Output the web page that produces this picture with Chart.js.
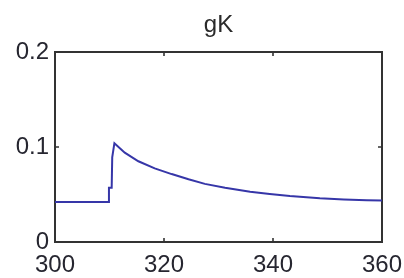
<!DOCTYPE html>
<html>
<head>
<meta charset="utf-8">
<script src="https://cdn.jsdelivr.net/npm/chart.js@4/dist/chart.umd.min.js"></script>
<style>
  html, body { margin: 0; padding: 0; background: #ffffff; overflow: hidden; }
</style>
</head>
<body>
<canvas id="c" width="404" height="278"></canvas>
<script>
// Data
const titleText = 'gK';
const timeValues = [300, 309.9, 309.9, 310.4, 310.5, 310.9, 312.8, 315.3, 318.3, 321.4, 324.5, 327.5, 331.2, 335.8, 339.4, 343.1, 348.6, 353.0, 357.2, 360];
const gKValues   = [0.042, 0.042, 0.057, 0.057, 0.089, 0.104, 0.094, 0.085, 0.0775, 0.0715, 0.066, 0.0612, 0.057, 0.0528, 0.0505, 0.0483, 0.0460, 0.0448, 0.0440, 0.0436];
const xTicks = [300, 320, 340, 360];
const yTicks = [0, 0.1, 0.2];

const points = timeValues.map((t, i) => ({ x: t, y: gKValues[i] }));
const FONT = 'Liberation Sans, Arial, sans-serif';

const inwardTicks = {
  id: 'inwardTicks',
  afterDatasetsDraw(chart) {
    const { ctx, chartArea: a, scales } = chart;
    ctx.save();
    ctx.strokeStyle = '#333333';
    ctx.lineWidth = 1.6;
    xTicks.forEach(v => {
      const px = scales.x.getPixelForValue(v);
      ctx.beginPath();
      ctx.moveTo(px, a.bottom); ctx.lineTo(px, a.bottom - 4);
      ctx.moveTo(px, a.top); ctx.lineTo(px, a.top + 4);
      ctx.stroke();
    });
    yTicks.forEach(v => {
      const py = scales.y.getPixelForValue(v);
      ctx.beginPath();
      ctx.moveTo(a.left, py); ctx.lineTo(a.left + 4, py);
      ctx.moveTo(a.right, py); ctx.lineTo(a.right - 4, py);
      ctx.stroke();
    });
    ctx.restore();
  }
};

new Chart(document.getElementById('c'), {
  type: 'line',
  data: {
    datasets: [{
      data: points,
      borderColor: '#3636a8',
      borderWidth: 2,
      pointRadius: 0,
      tension: 0,
      fill: false
    }]
  },
  options: {
    responsive: false,
    animation: false,
    layout: { padding: { left: 0, right: 22, top: 0, bottom: 0 } },
    plugins: { legend: { display: false }, tooltip: { enabled: false }, title: { display: false } },
    scales: {
      x: {
        type: 'linear', position: 'bottom', min: 300, max: 360,
        afterBuildTicks: s => { s.ticks = xTicks.map(v => ({ value: v })); },
        afterFit: s => { s.height = 36; },
        grid: { drawOnChartArea: false, drawTicks: true, tickLength: 9, tickColor: 'rgba(0,0,0,0)' },
        border: { display: true, color: '#333333', width: 2 },
        ticks: { padding: 0, color: '#262630', font: { family: FONT, size: 24 }, maxRotation: 0, autoSkip: false }
      },
      x2: {
        type: 'linear', position: 'top', min: 300, max: 360,
        afterFit: s => { s.height = 52; },
        grid: { drawOnChartArea: false, drawTicks: false },
        border: { display: true, color: '#333333', width: 2 },
        ticks: { display: false },
        title: { display: true, text: titleText, color: '#2a2a2a', padding: { top: 11, bottom: 0 }, font: { family: FONT, size: 24 } }
      },
      y: {
        type: 'linear', position: 'left', min: 0, max: 0.2,
        afterBuildTicks: s => { s.ticks = yTicks.map(v => ({ value: v })); },
        afterFit: s => { s.width = 55; },
        grid: { drawOnChartArea: false, drawTicks: false },
        border: { display: true, color: '#333333', width: 2 },
        ticks: { padding: 6, color: '#262630', font: { family: FONT, size: 24 },
          callback: v => String(Math.round(v * 10) / 10) }
      },
      y2: {
        type: 'linear', position: 'right', min: 0, max: 0.2,
        afterFit: s => { s.width = 0; },
        grid: { drawOnChartArea: false, drawTicks: false },
        border: { display: true, color: '#333333', width: 2 },
        ticks: { display: false }
      }
    }
  },
  plugins: [inwardTicks]
});
</script>
</body>
</html>
